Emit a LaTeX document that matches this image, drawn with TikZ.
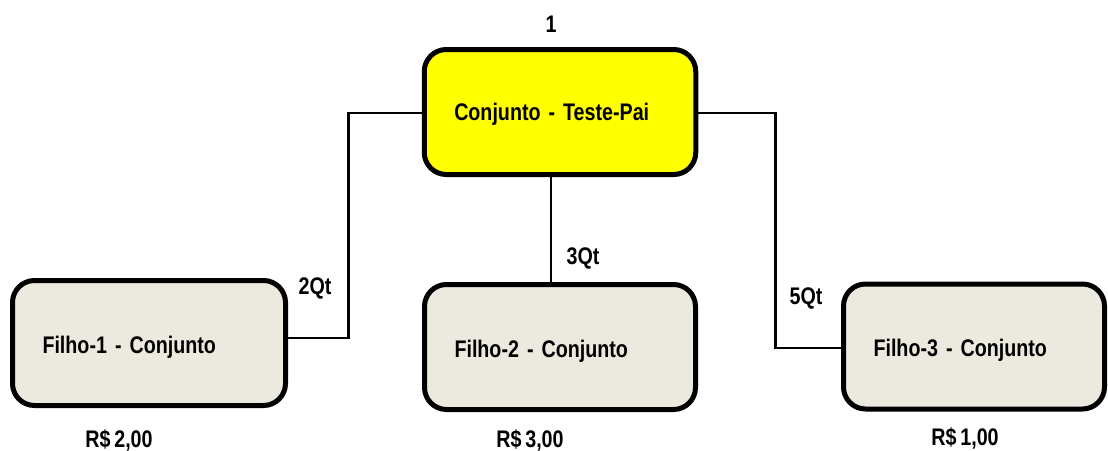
\documentclass[tikz,border=0pt]{standalone}
\usepackage{fontspec}
\setmainfont{Liberation Sans}[FakeStretch=0.82,WordSpace=0.7]
\begin{document}
\begin{tikzpicture}[x=1pt,y=-1pt,
  font=\fontsize{24}{28}\selectfont\bfseries,
  box/.style={draw=black, line width=5pt, rounded corners=22pt, minimum height=125pt,
    align=left, inner xsep=30pt, inner ysep=0pt, text height=25pt, text depth=5pt},
  pai/.style={box, fill=yellow},
  filho/.style={box, fill=beige},
  conn/.style={draw=black, line width=2.8pt},
  lbl/.style={inner sep=0pt, anchor=center}]
\definecolor{beige}{RGB}{236,234,223}
\definecolor{yellow}{RGB}{255,255,0}
\useasboundingbox (0,0) rectangle (1108,450);
\node[pai, text width=211.5pt, text height=21pt] (P) at (560,112) {Conjunto - Teste-Pai};
\node[filho, text width=213pt] (F1) at (149,343) {Filho-1 - Conjunto};
\node[filho, text width=211pt] (F2) at (560,347) {Filho-2 - Conjunto};
\node[filho, text width=201pt] (F3) at (974,346.5) {Filho-3 - Conjunto};
\node[lbl] (n1) at (551,24) {1};
\node[lbl] (q2) at (315,288) {2Qt};
\node[lbl] (q3) at (583,258) {3Qt};
\node[lbl] (q5) at (806,298) {5Qt};
\node[lbl] (r2) at (119,440) {R\$ 2,00};
\node[lbl] (r3) at (530,440) {R\$ 3,00};
\node[lbl] (r1) at (965,438) {R\$ 1,00};
\draw[conn] ([yshift=-1pt]P.west) -- ++(-73,0) |- ([yshift=5pt]F1.east);
\draw[conn] ([yshift=-1pt]P.east) -- ++(77.5,0) |- ([yshift=-1.5pt]F3.west);
\draw[conn] ([xshift=-9pt]P.south) -- ([xshift=-9pt]F2.north);
\end{tikzpicture}
\end{document}
